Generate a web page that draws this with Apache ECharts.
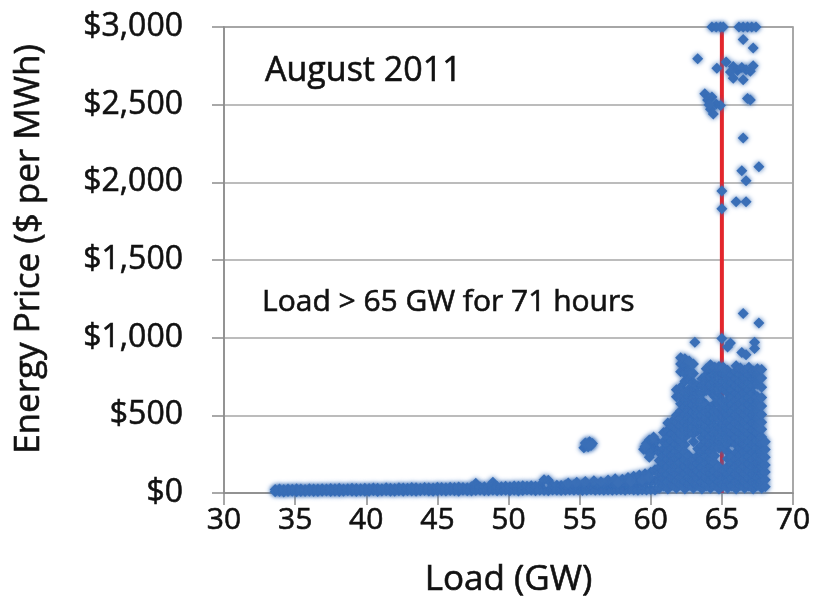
<!DOCTYPE html>
<html>
<head>
<meta charset="utf-8">
<script src="https://cdn.jsdelivr.net/npm/echarts@6/dist/echarts.min.js"></script>
<style>
html,body{margin:0;padding:0;background:#fff;}
#chart{width:817px;height:606px;}
</style>
</head>
<body>
<div id="chart"></div>
<script>
// ---- Data (Load in GW, Price in $/MWh) ----
const xTicks = [30, 35, 40, 45, 50, 55, 60, 65, 70];
const yTicks = [0, 500, 1000, 1500, 2000, 2500, 3000];
const yTickLabels = ['$0', '$500', '$1,000', '$1,500', '$2,000', '$2,500', '$3,000'];
const thresholdLoad = 65;

// low-price band: loads, lower and upper prices
const bandLoads = [
  33.6,33.9,34.2,34.5,34.8,35.1,35.4,35.7,36.0,36.3,
  36.6,36.9,37.2,37.5,37.8,38.1,38.4,38.7,39.0,39.3,
  39.6,39.9,40.2,40.5,40.8,41.1,41.4,41.7,42.0,42.3,
  42.6,42.9,43.2,43.5,43.8,44.1,44.4,44.7,45.0,45.3,
  45.6,45.9,46.2,46.5,46.8,47.1,47.4,47.7,48.0,48.3,
  48.6,48.9,49.2,49.5,49.8,50.1,50.4,50.7,51.0,51.3,
  51.6,51.9,52.2,52.5,52.8,53.1,53.4,53.7,54.0,54.3,
  54.6,54.9,55.2,55.5,55.8,56.1,56.4,56.7,57.0,57.3,
  57.6,57.9,58.2,58.5,58.8,59.1,59.4,59.7,60.0,60.3
];
const bandLow = [
  8,10,7,9,11,8,10,9,12,10,
  9,11,13,10,12,9,11,14,12,10,
  13,11,12,14,10,13,15,12,11,14,
  12,15,13,11,14,16,13,12,15,14,
  13,16,14,12,17,15,13,16,18,14,
  15,17,14,16,18,15,17,13,16,19,
  17,15,18,16,14,19,17,16,18,20,
  17,19,16,18,21,17,19,18,20,17,
  19,21,18,22,20,17,21,19,22,20
];
const bandHigh = [
  22,25,23,26,24,27,25,23,28,26,
  25,28,26,29,27,30,26,28,31,29,
  28,31,29,32,30,28,33,31,29,34,
  32,30,35,33,31,36,34,32,37,35,
  33,37,35,39,36,34,40,62,38,41,
  39,70,42,40,44,41,45,43,47,44,
  46,43,48,86,82,47,50,48,52,49,
  53,51,56,54,52,58,55,60,57,62,
  59,64,61,67,63,70,66,74,72,79
];
const bandTop = [
  [54.2,64],[54.8,70],[55.4,74],[56.0,79],[56.5,72],[57.0,84],[57.5,92],[58.0,88],[58.4,99],
  [58.8,108],[59.2,116],[59.6,124],[60.0,134],[60.3,150],[57.7,66],[58.6,74],[59.4,84],[59.9,99]
];

// isolated clusters near 55 GW and 60 GW
const cluster55 = [[55.3,292],[55.5,315],[55.7,330],[55.9,318],[55.6,298],[55.4,322],[55.8,305]];
const cluster60 = [[59.5,282],[59.7,318],[59.9,342],[60.1,312],[60.3,290],[59.8,268],[60.0,255],
  [60.4,335],[59.6,300],[60.2,360],[59.9,230]];

// dense high-load cloud: one load per column, prices in that column
const cloudLoads = [60.6,60.9,61.2,61.5,61.8,62.1,62.4,62.7,63.0,63.3,63.6,63.9,64.2,
  64.5,64.8,65.1,65.4,65.7,66.0,66.3,66.6,66.9,67.2,67.5,67.8,68.05];
const cloudPrices = [
  [30,75,120,165,210,260],
  [45,95,140,190,235,285,330,390],
  [25,70,120,165,215,260,310,355,405,450],
  [50,95,145,190,240,285,335,380,430,460],
  [30,75,125,170,220,265,315,360,410,455,500,620,665],
  [55,100,150,195,245,290,340,385,435,480,530,575,625,680,780,830,870],
  [25,75,120,170,215,265,310,360,405,455,500,550,600,650,720,770,820,865],
  [50,100,145,195,240,385,430,480,525,575,620,670,730,790,850],
  [30,75,125,170,215,330,380,425,470,520,565,610,660,710,770,830],
  [50,95,145,190,240,285,400,450,495,540,590,640,690],
  [25,70,120,165,215,260,310,355,405,450,500,545,595,640,690,735],
  [45,95,140,190,235,285,330,380,425,475,520,570,660,710,760,800],
  [30,75,125,170,220,265,315,360,410,455,505,550,650,700,750,800,825],
  [50,100,145,195,240,290,335,385,430,480,525,575,620,670,715,765,810],
  [25,70,120,165,290,335,385,430,480,525,575,620,670,715,765,815],
  [50,95,145,300,350,395,445,490,540,585,670,720,770,810],
  [30,75,125,170,220,265,315,360,410,455,505,550,600,645,695,740,790],
  [45,95,140,190,235,330,380,425,475,520,570,615,665,710,760],
  [25,70,120,165,215,260,310,355,405,450,500,545,595,640,690,735,785,820],
  [50,100,145,195,240,290,335,385,430,480,525,575,620,670,715,765,805],
  [30,75,125,170,220,265,315,360,410,455,505,550,600,645,695,740,790],
  [45,95,140,190,235,285,330,380,425,475,520,570,615,665,710,760,810],
  [25,70,120,165,215,260,310,355,405,450,500,545,595,640,690,735,785],
  [50,100,145,195,240,290,335,385,430,480,525,575,620,700,760,800],
  [30,75,125,170,220,265,315,360,410,455,505,560,615,680,740,795],
  [40,85,135,180,230,280,330]
];

// scattered price spikes
const spikes = [
  [63.1,970],[65.0,995],[65.6,965],[65.4,940],[66.5,1155],[67.6,1095],[66.4,905],[67.3,970],[67.3,930],[66.7,890],
  [64.3,3000],[64.6,3000],[64.9,3000],[65.1,3000],[66.2,3000],[66.5,3000],[66.8,3000],[67.1,3000],[67.4,3000],
  [66.5,2920],[67.2,2865],[63.3,2795],[64.65,2735],[65.3,2775],[65.8,2745],[66.1,2720],[66.4,2740],
  [66.7,2725],[67.0,2715],[67.2,2750],[65.6,2710],[65.8,2670],[66.5,2660],
  [63.8,2570],[64.0,2530],[64.3,2550],[64.6,2505],[64.9,2495],[64.2,2470],[64.4,2440],[64.1,2500],
  [66.8,2540],[67.0,2530],[66.5,2285],[66.4,2075],[67.6,2100],[66.7,2010],
  [65.0,1945],[66.0,1875],[66.7,1875],[65.0,1830]
];

// ---- Build point list ----
const points = [];
bandLoads.forEach((l, i) => { points.push([l, bandLow[i]]); points.push([l, bandHigh[i]]); });
bandTop.forEach(p => points.push(p));
cluster55.forEach(p => points.push(p));
cluster60.forEach(p => points.push(p));
cloudLoads.forEach((l, i) => cloudPrices[i].forEach(p => points.push([l, p])));
spikes.forEach(p => points.push(p));

const FONT = 'Open Sans';
const TXT = '#111111';
const AX = '#8c8c8c';
const BLUE = '#3a6fb7';
const heavy = {textBorderColor: TXT, textBorderWidth: 0.6};

const chart = echarts.init(document.getElementById('chart'), null, {renderer: 'canvas'});
chart.setOption({
  animation: false,
  backgroundColor: '#fff',
  grid: {left: 224, right: 24, top: 27, bottom: 113, show: true, borderColor: AX, borderWidth: 1.5, backgroundColor: 'transparent'},
  xAxis: {
    type: 'value', min: xTicks[0], max: xTicks[xTicks.length - 1], interval: 5,
    axisLine: {show: true, onZero: false, lineStyle: {color: AX, width: 1.5}},
    axisTick: {show: true, length: 12, lineStyle: {color: AX, width: 1.5}},
    splitLine: {show: false},
    axisLabel: Object.assign({fontFamily: FONT, fontSize: 30, color: TXT, margin: 12}, heavy),
    name: 'Load (GW)', nameLocation: 'middle', nameGap: 70,
    nameTextStyle: Object.assign({fontFamily: FONT, fontSize: 35, color: TXT}, heavy)
  },
  yAxis: {
    type: 'value', min: yTicks[0], max: yTicks[yTicks.length - 1], interval: 500,
    axisLine: {show: true, lineStyle: {color: AX, width: 1.5}},
    axisTick: {show: true, length: 12, lineStyle: {color: AX, width: 1.5}},
    splitLine: {show: true, lineStyle: {color: '#a6a6a6', width: 1.5}},
    axisLabel: Object.assign({
      fontFamily: FONT, fontSize: 32, color: TXT, margin: 41,
      formatter: v => yTickLabels[yTicks.indexOf(v)]
    }, heavy),
    name: 'Energy Price ($ per MWh)', nameLocation: 'middle', nameGap: 177,
    nameTextStyle: Object.assign({fontFamily: FONT, fontSize: 35, color: TXT, padding: [0, 0, 0, 22]}, heavy)
  },
  graphic: [
    {type: 'text', x: 265, y: 71, z: 10, style: {text: 'August 2011', font: '34px "Open Sans"', fill: TXT, stroke: TXT, lineWidth: 0.6, verticalAlign: 'middle'}},
    {type: 'text', x: 262, y: 302, z: 10, style: {text: 'Load > 65 GW for 71 hours', font: '30px "Open Sans"', fill: TXT, stroke: TXT, lineWidth: 0.6, verticalAlign: 'middle'}}
  ],
  series: [
    {
      type: 'line', z: 1, symbol: 'none', silent: true,
      data: [[thresholdLoad, yTicks[0]], [thresholdLoad, yTicks[yTicks.length - 1]]],
      lineStyle: {color: '#e3262c', width: 4}
    },
    {
      type: 'scatter', z: 2, symbol: 'diamond', symbolSize: 11,
      data: points,
      itemStyle: {color: BLUE, opacity: 1, shadowBlur: 5, shadowColor: BLUE}
    }
  ]
});
</script>
</body>
</html>
